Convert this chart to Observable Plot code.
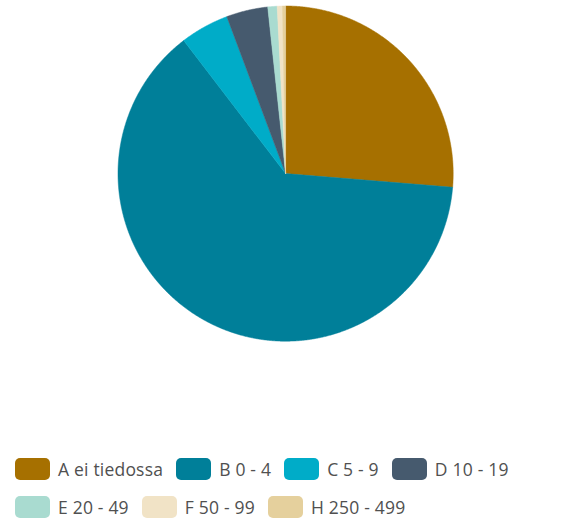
<!DOCTYPE html>
<html>
<head>
<meta charset="utf-8">
<script src="https://cdn.jsdelivr.net/npm/d3@7"></script>
<script src="https://cdn.jsdelivr.net/npm/@observablehq/plot@0.6"></script>
<style>
  html, body { margin: 0; background: #fff; font-family: "Open Sans", "Noto Sans", sans-serif; }
  #chart { width: 565px; height: 440px; }
  .legend { display: flex; flex-wrap: wrap; width: 545px; margin: 18px 0 0 15px; column-gap: 13px; row-gap: 16px; }
  .item { display: flex; align-items: center; height: 22px; line-height: 20px; font-size: 17.5px; color: #505050; white-space: nowrap; }
  .item span { letter-spacing: 0.2px; }
  .sw { width: 35px; height: 22px; border-radius: 5px; margin-right: 8px; flex: none; }
</style>
</head>
<body>
<div id="chart"></div>
<script>
const categories = ["A ei tiedossa", "B 0 - 4", "C 5 - 9", "D 10 - 19", "E 20 - 49", "F 50 - 99", "H 250 - 499"];
const values = [26.3, 63.3, 4.7, 4.0, 0.9, 0.5, 0.3];
const colors = ["#a67000", "#007f99", "#00acc8", "#465a6e", "#a9dbd0", "#f1e3c6", "#e5d09d"];

const table = categories.map((c, i) => ({category: c, value: values[i]}));
const arcs = d3.pie().sort(null).value(d => d.value)(table);
const pts = [];
for (const a of arcs) {
  const cat = a.data.category;
  pts.push({category: cat, x: 0, y: 0});
  const n = Math.max(2, Math.ceil((a.endAngle - a.startAngle) / 0.005));
  for (let k = 0; k <= n; k++) {
    const t = a.startAngle + (a.endAngle - a.startAngle) * k / n;
    pts.push({category: cat, x: Math.sin(t), y: Math.cos(t)});
  }
  pts.push({category: cat, x: 0, y: 0});
}

const plot = Plot.plot({
  width: 565,
  height: 440,
  margin: 0,
  x: {domain: [-1, 1], range: [117.5, 452.7], axis: null},
  y: {domain: [-1, 1], range: [340.7, 5.5], axis: null},
  color: {type: "ordinal", domain: categories, range: colors},
  marks: [
    Plot.line(pts, {x: "x", y: "y", z: "category", fill: "category", stroke: "category", strokeWidth: 0.5, curve: "linear"})
  ]
});
plot.style.display = "block";
document.getElementById("chart").appendChild(plot);

const legend = document.createElement("div");
legend.className = "legend";
categories.forEach((c, i) => {
  const item = document.createElement("div");
  item.className = "item";
  const sw = document.createElement("div");
  sw.className = "sw";
  sw.style.background = colors[i];
  const lab = document.createElement("span");
  lab.textContent = c;
  item.appendChild(sw);
  item.appendChild(lab);
  legend.appendChild(item);
});
document.body.appendChild(legend);
</script>
</body>
</html>
